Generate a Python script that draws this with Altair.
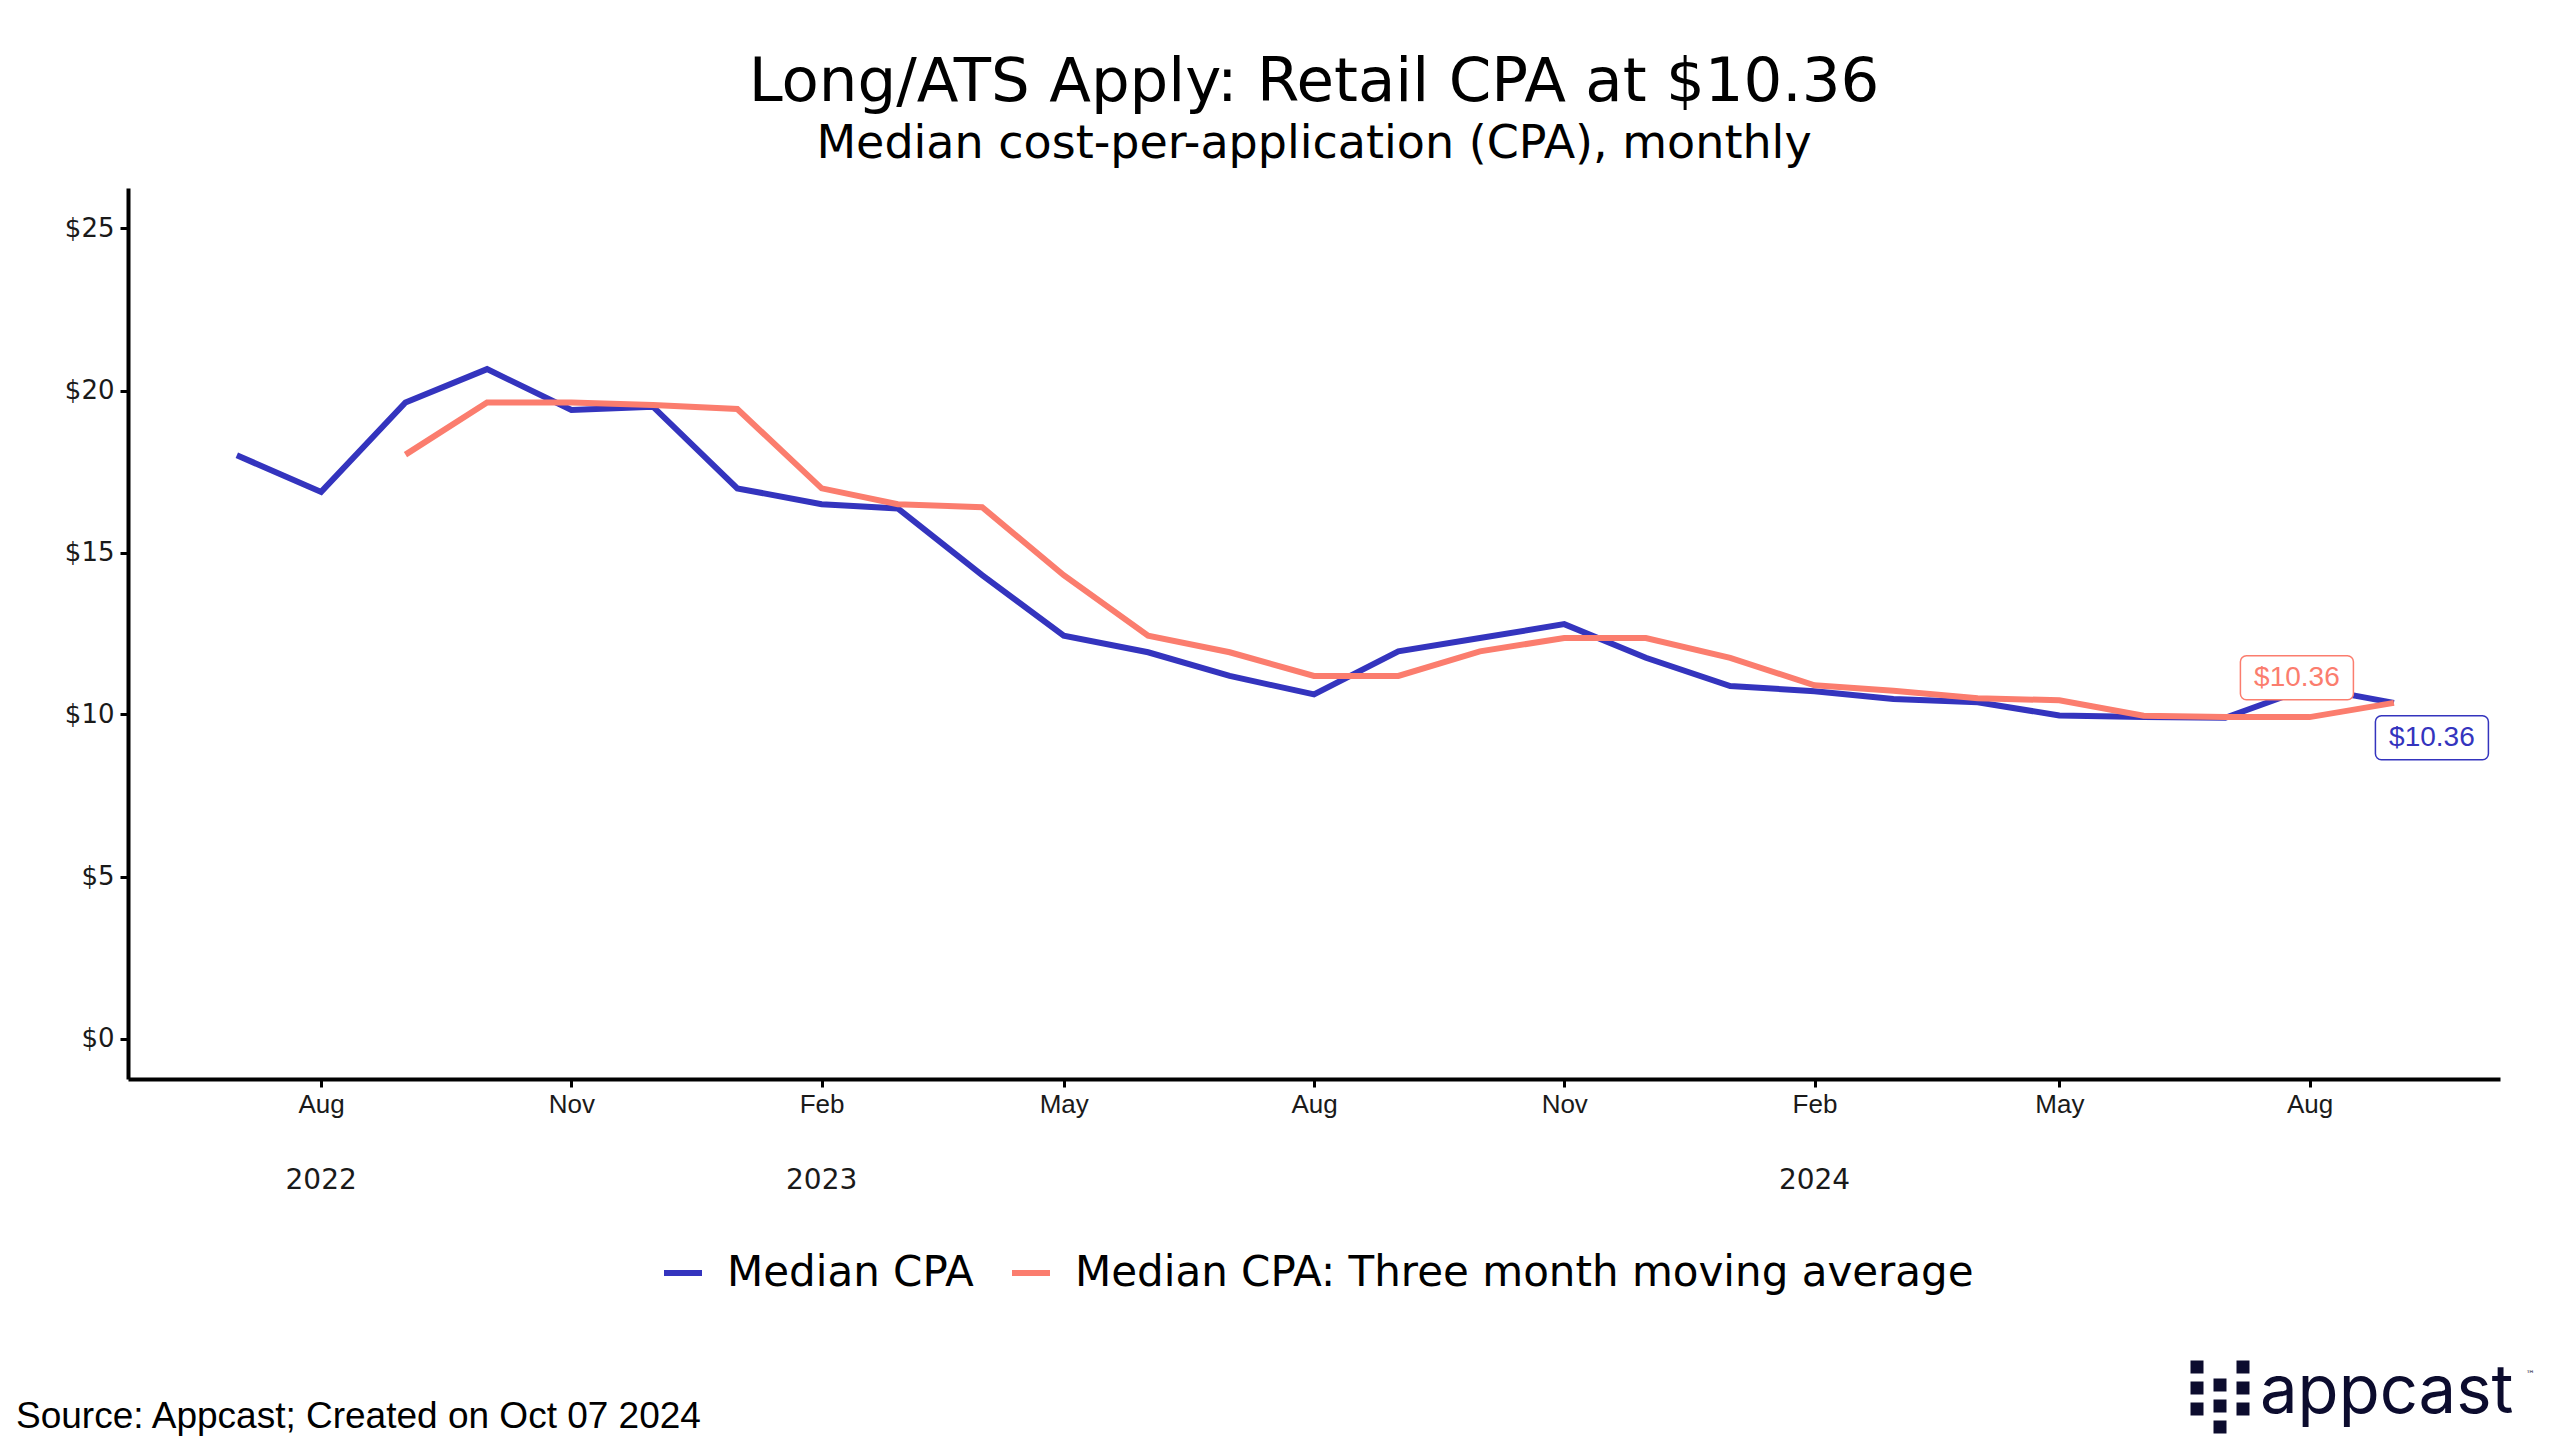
import altair as alt
import pandas as pd

# ---------------- data ----------------
months = [
    "2022-07-01", "2022-08-01", "2022-09-01", "2022-10-01", "2022-11-01", "2022-12-01",
    "2023-01-01", "2023-02-01", "2023-03-01", "2023-04-01", "2023-05-01", "2023-06-01",
    "2023-07-01", "2023-08-01", "2023-09-01", "2023-10-01", "2023-11-01", "2023-12-01",
    "2024-01-01", "2024-02-01", "2024-03-01", "2024-04-01", "2024-05-01", "2024-06-01",
    "2024-07-01", "2024-08-01", "2024-09-01",
]
median_cpa = [18.00, 16.87, 19.63, 20.66, 19.40, 19.50, 16.98, 16.49, 16.36, 14.30,
              12.43, 11.92, 11.19, 10.62, 11.95, 12.36, 12.79, 11.75, 10.88, 10.72,
              10.48, 10.38, 9.97, 9.92, 9.90, 10.84, 10.36]
ma_months = months[2:]
moving_avg = [18.02, 19.63, 19.63, 19.55, 19.43, 16.98, 16.49, 16.40, 14.30, 12.43,
              11.92, 11.19, 11.19, 11.95, 12.36, 12.36, 11.75, 10.90, 10.73, 10.50,
              10.44, 9.96, 9.92, 9.92, 10.36]
series_names = ["Median CPA", "Median CPA: Three month moving average"]
year_labels = ["2022", "2023", "2024"]
year_label_dates = ["2022-08-01", "2023-02-01", "2024-02-01"]
y_ticks = [0, 5, 10, 15, 20, 25]

title_text = "Long/ATS Apply: Retail CPA at $10.36"
subtitle_text = "Median cost-per-application (CPA), monthly"
footer_text = "Source: Appcast; Created on Oct 07 2024"

BLUE = "#3434BE"
RED = "#FB7D6E"
NAVY = "#0c0c2e"

df_blue = pd.DataFrame({"date": months, "value": median_cpa, "series": series_names[0]})
df_red = pd.DataFrame({"date": ma_months, "value": moving_avg, "series": series_names[1]})
df_end_blue = pd.DataFrame({"date": [months[-1]], "value": [median_cpa[-1]],
                            "label": [f"${median_cpa[-1]:.2f}"]})
df_end_red = pd.DataFrame({"date": [ma_months[-1]], "value": [moving_avg[-1]],
                           "label": [f"${moving_avg[-1]:.2f}"]})
df_years = pd.DataFrame({"date": year_label_dates, "label": year_labels})

# ---------------- scales / axes ----------------
x_scale = alt.Scale(type="utc",
                    domain=[alt.DateTime(year=2022, month=5, date=22, utc=True),
                            alt.DateTime(year=2024, month=10, date=10, utc=True)])
y_scale = alt.Scale(domain=[-1.25, 26.25], nice=False, zero=False)

tick_dates = [alt.DateTime(year=y, month=m, date=1, utc=True) for y, m in
              [(2022, 8), (2022, 11), (2023, 2), (2023, 5), (2023, 8), (2023, 11),
               (2024, 2), (2024, 5), (2024, 8)]]

x_axis = alt.Axis(values=tick_dates, format="%b", grid=False, domainColor="black",
                  domainWidth=4, tickColor="black", tickWidth=3, tickSize=8,
                  labelFont="Liberation Sans", labelFontSize=26, labelColor="#1a1a1a",
                  labelPadding=4, title=None)
y_axis = alt.Axis(values=y_ticks, labelExpr="'$' + datum.value", grid=False,
                  domainColor="black", domainWidth=4, tickColor="black", tickWidth=3,
                  tickSize=8, labelFont="DejaVu Sans", labelFontSize=26,
                  labelColor="#1a1a1a", labelPadding=6, title=None)


def X(axis=True):
    if axis:
        return alt.X("date:T", scale=x_scale, axis=x_axis)
    return alt.X("date:T", scale=x_scale)


def Y(axis=True):
    if axis:
        return alt.Y("value:Q", scale=y_scale, axis=y_axis)
    return alt.Y("value:Q", scale=y_scale)


color_enc = alt.Color(
    "series:N",
    scale=alt.Scale(domain=series_names, range=[BLUE, RED]),
    legend=alt.Legend(orient="none", legendX=533, legendY=1063, direction="horizontal",
                      title=None, symbolType="stroke", symbolStrokeWidth=6,
                      symbolSize=1444, labelFont="DejaVu Sans", labelFontSize=42,
                      labelColor="black", labelOffset=22, columnPadding=26,
                      padding=0, labelLimit=0),
)

line_blue = alt.Chart(df_blue).mark_line(strokeWidth=6).encode(x=X(), y=Y(), color=color_enc)
line_red = alt.Chart(df_red).mark_line(strokeWidth=6).encode(x=X(False), y=Y(False), color=color_enc)

box_blue = alt.Chart(df_end_blue).mark_rect(
    width=113, height=44, xOffset=38, yOffset=35, cornerRadius=6,
    fill="white", stroke=BLUE, strokeWidth=1.5).encode(x=X(False), y=Y(False))
txt_blue = alt.Chart(df_end_blue).mark_text(
    dx=38, dy=35, font="Liberation Sans", fontSize=28, color=BLUE,
    baseline="middle", align="center").encode(x=X(False), y=Y(False), text="label:N")
box_red = alt.Chart(df_end_red).mark_rect(
    width=113, height=44, xOffset=-97, yOffset=-25, cornerRadius=6,
    fill="white", stroke=RED, strokeWidth=1.5).encode(x=X(False), y=Y(False))
txt_red = alt.Chart(df_end_red).mark_text(
    dx=-97, dy=-25, font="Liberation Sans", fontSize=28, color=RED,
    baseline="middle", align="center").encode(x=X(False), y=Y(False), text="label:N")

years = alt.Chart(df_years).mark_text(
    font="DejaVu Sans", fontSize=28, color="#1a1a1a", baseline="middle",
    align="center").encode(x=X(False), y=alt.value(993), text="label:N")

footer = alt.Chart(pd.DataFrame({"t": [footer_text]})).mark_text(
    font="Liberation Sans", fontSize=37, color="black", align="left",
    baseline="middle").encode(x=alt.value(-112), y=alt.value(1229), text="t:N")

logo_text = alt.Chart(pd.DataFrame({"t": ["appcast"]})).mark_text(
    font="Inter", fontSize=67, color=NAVY, align="left",
    baseline="alphabetic").encode(x=alt.value(2132), y=alt.value(1225), text="t:N")
logo_tm = alt.Chart(pd.DataFrame({"t": ["™"]})).mark_text(
    font="DejaVu Sans", fontSize=9, color=NAVY, align="left",
    baseline="middle").encode(x=alt.value(2398), y=alt.value(1186), text="t:N")

logo_squares = [(2069, 1179), (2069, 1200), (2069, 1221),
                (2092, 1197), (2092, 1218), (2092, 1239),
                (2115, 1179), (2115, 1200), (2115, 1221)]
dummy = pd.DataFrame({"a": [0]})
square_layers = [
    alt.Chart(dummy).mark_square(size=169, color=NAVY, opacity=1).encode(
        x=alt.value(px), y=alt.value(py))
    for px, py in logo_squares
]

chart = alt.layer(
    line_blue, line_red, box_red, txt_red, box_blue, txt_blue, years,
    footer, logo_text, logo_tm, *square_layers
).properties(
    width=2372,
    height=891,
    title=alt.TitleParams(
        text=title_text, subtitle=subtitle_text, font="DejaVu Sans",
        subtitleFont="DejaVu Sans", fontSize=61, subtitleFontSize=46,
        fontWeight="normal", color="black", subtitleColor="black",
        anchor="middle", offset=20, subtitlePadding=8),
    autosize=alt.AutoSizeParams(type="none"),
    padding={"left": 120, "top": 180, "right": 52, "bottom": 368},
    background="white",
).configure_view(stroke=None)

chart.save("out.html", embed_options={"renderer": "svg", "actions": False})
